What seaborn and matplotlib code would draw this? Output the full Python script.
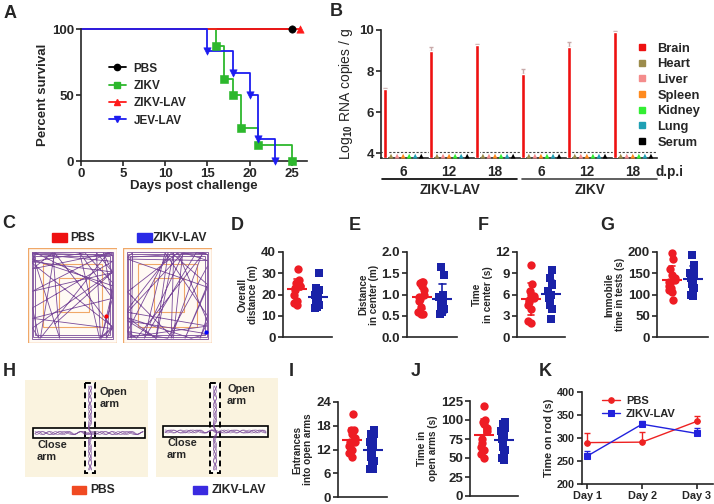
import numpy as np
import pandas as pd
import matplotlib
matplotlib.use('Agg')
import matplotlib.pyplot as plt
import seaborn as sns
from matplotlib.lines import Line2D
from matplotlib.patches import Rectangle

W, H = 714, 504

# ---------------- data ----------------
# A: survival (days post challenge, percent survival)
pbs_days = [0, 25]
pbs_surv = [100, 100]
zikv_days = [0, 16, 17, 18, 19, 21, 25]
zikv_surv = [100, 87.5, 62.5, 50, 25, 12.5, 0]
lav_days = [0, 26]
lav_surv = [100, 100]
jev_days = [0, 15, 18, 20, 21, 23]
jev_surv = [100, 83.3, 66.7, 50, 16.7, 0]

# B: viral load, log10 RNA copies / g
tissues = ['Brain', 'Heart', 'Liver', 'Spleen', 'Kidney', 'Lung', 'Serum']
tissue_colors = ['#ee1111', '#9c8c4c', '#f48c8c', '#ff8a1e', '#33ee33', '#1fa0b4', '#000000']
dpi_labels = ['6', '12', '18', '6', '12', '18']
virus_groups = ['ZIKV-LAV', 'ZIKV']
brain_vals = [7.1, 9.0, 9.25, 7.87, 9.15, 9.9]
brain_err = [0.05, 0.15, 0.06, 0.25, 0.25, 0.03]
heart_vals = [3.85] * 6
liver_vals = [3.85] * 6
spleen_vals = [3.85] * 6
kidney_vals = [3.85] * 6
lung_vals = [3.85] * 6
serum_vals = [3.85] * 6
detect_limit = 4.03

# D-G: open field
dist_pbs = [32, 27, 25.5, 25, 24, 24, 23, 22, 20, 17, 16, 15]
dist_lav = [30, 23, 22, 21, 20, 19, 18, 17, 16, 15, 14, 13.5]
center_pbs = [1.3, 1.3, 1.27, 1.2, 1.1, 1.0, 0.95, 0.9, 0.85, 0.7, 0.6, 0.55, 0.55]
center_lav = [1.65, 1.45, 1.0, 0.95, 0.85, 0.8, 0.75, 0.7, 0.65, 0.6, 0.55]
tcenter_pbs = [10.2, 7.5, 6.5, 6.0, 5.8, 5.5, 5.2, 5.0, 4.5, 4.0, 2.2, 2.0]
tcenter_lav = [9.5, 8.4, 7.5, 7.3, 6.5, 6.0, 5.5, 5.0, 4.5, 4.0, 2.6]
immob_pbs = [198, 183, 160, 145, 140, 135, 130, 128, 120, 115, 110, 105, 88]
immob_lav = [193, 170, 165, 150, 145, 140, 130, 125, 115, 108, 100, 97]

# I-J: elevated plus maze
entr_pbs = [21, 17, 17, 16, 15, 14, 14, 13, 13, 12, 11, 10]
entr_lav = [17, 16, 16, 15, 14, 13, 12, 11, 10, 9, 8, 7, 7]
open_pbs = [119, 100, 98, 95, 90, 85, 75, 70, 65, 60, 55, 50]
open_lav = [98, 95, 92, 90, 85, 80, 75, 72, 65, 60, 55, 50, 48]

# K: rotarod
rod_days = ['Day 1', 'Day 2', 'Day 3']
rod_pbs = [290, 291, 336]
rod_pbs_err = [20, 22, 11]
rod_lav = [261, 330, 310]
rod_lav_err = [10, 8, 12]

RED = '#ee1c24'
BLUE = '#1a22a8'
PURPLE = '#7a4b9a'

# ---------------- style ----------------
sns.set_style('ticks')
plt.rcParams['font.family'] = ['Liberation Sans', 'DejaVu Sans']
plt.rcParams['font.weight'] = 'bold'
plt.rcParams['axes.labelweight'] = 'bold'
plt.rcParams['mathtext.fontset'] = 'custom'
plt.rcParams['mathtext.rm'] = 'Liberation Sans'
plt.rcParams['mathtext.it'] = 'Liberation Sans'

fig = plt.figure(figsize=(W / 100, H / 100), dpi=100)


def add_ax(x0, y0, x1, y1):
    # pixel box, origin top-left
    return fig.add_axes([x0 / W, 1 - y1 / H, (x1 - x0) / W, (y1 - y0) / H])


def ftext(x, y, s, **kw):
    fig.text(x / W, 1 - y / H, s, **kw)


def fline(x0, x1, y, **kw):
    fig.add_artist(Line2D([x0 / W, x1 / W], [1 - y / H, 1 - y / H], transform=fig.transFigure, **kw))


def style(ax, size=8, lw=1.2):
    sns.despine(ax=ax)
    for s in ['left', 'bottom']:
        ax.spines[s].set_linewidth(lw)
    ax.tick_params(width=lw, length=3.5, labelsize=size, pad=1.5)


for lab, x, y in [('A', 10, 13), ('B', 336, 11), ('C', 9, 224), ('D', 237, 225), ('E', 355, 225),
                  ('F', 483, 225), ('G', 607, 225), ('H', 9, 371), ('I', 291, 372), ('J', 416, 372),
                  ('K', 545, 372)]:
    ftext(x, y, lab, fontsize=13, fontweight='bold', ha='center', va='center')

# ---------------- A ----------------
ax = add_ax(81, 29, 307, 161)
curves = [(pbs_days, pbs_surv, 'black', 'o', 'PBS'),
          (zikv_days, zikv_surv, '#2db82d', 's', 'ZIKV'),
          (lav_days, lav_surv, '#ff1a1a', '^', 'ZIKV-LAV'),
          (jev_days, jev_surv, '#1c1cf0', 'v', 'JEV-LAV')]
handles = []
for days, surv, c, m, name in curves:
    ax.step(days, surv, where='post', color=c, lw=1.3, clip_on=False)
    sns.scatterplot(x=days[1:], y=surv[1:], color=c, marker=m, s=28, edgecolor=c, ax=ax,
                    clip_on=False, zorder=5)
    handles.append(Line2D([], [], color=c, marker=m, markersize=4.5, lw=1.3, label=name))
ax.set_xlim(0, 26.8)
ax.set_ylim(0, 100)
ax.set_xticks([0, 5, 10, 15, 20, 25])
ax.set_yticks([0, 50, 100])
ax.set_xlabel('Days post challenge', fontsize=9.5, labelpad=0)
ax.set_ylabel('Percent survival', fontsize=9.5, labelpad=2)
style(ax, 9.5)
ax.legend(handles=handles, loc='upper left', bbox_to_anchor=(98 / W, 1 - 52 / H),
          bbox_transform=fig.transFigure, frameon=False, fontsize=8.5, handlelength=1.5,
          handletextpad=0.6, labelspacing=0.45)

# ---------------- B ----------------
ax = add_ax(381, 30, 657, 158)
gap = 7.6
other = [heart_vals, liver_vals, spleen_vals, kidney_vals, lung_vals, serum_vals]
rows = []
for t, vals in enumerate(other, start=1):
    for g, v in enumerate(vals):
        rows.append({'tissue': tissues[t], 'x': g * gap + t, 'val': v})
df_other = pd.DataFrame(rows)
bx = [g * gap for g in range(6)]
ax.bar(bx, [v - 3.76 for v in brain_vals], bottom=3.76, width=0.7, color=tissue_colors[0], zorder=3)
ax.errorbar(bx, brain_vals, yerr=[[0] * 6, brain_err], fmt='none', ecolor='#c9aaaa', elinewidth=1,
            capsize=1.5, zorder=2)
sns.scatterplot(data=df_other, x='x', y='val', hue='tissue', palette=tissue_colors[1:], marker='^',
                s=12, edgecolor='none', legend=False, ax=ax, clip_on=False, zorder=4)
ax.axhline(detect_limit, color='#444444', lw=0.8, ls=(0, (2, 1.5)), zorder=1)
ax.set_xlim(-0.66, 45)
ax.set_ylim(3.76, 10)
ax.set_yticks([4, 6, 8, 10])
ax.set_xticks([g * gap + 3 for g in range(6)])
ax.set_xticklabels(dpi_labels)
ax.set_xlabel('')
ax.set_ylabel('Log$_{10}$ RNA copies / g', fontsize=10, fontweight='normal', labelpad=3)
style(ax, 9.5)
ax.tick_params(axis='x', length=0, pad=5, labelsize=9.8)
ftext(670, 172, 'd.p.i', fontsize=9.8, fontweight='bold', ha='center', va='center')
fline(382, 517, 179, color='black', lw=1.2)
fline(522, 657, 179, color='#444444', lw=1.2)
ftext(450, 190, virus_groups[0], fontsize=9.8, ha='center', va='center')
ftext(590, 190, virus_groups[1], fontsize=9.8, ha='center', va='center')
leg_h = [Line2D([], [], marker='s', color=c, ls='none', markersize=4) for c in tissue_colors]
ax.legend(leg_h, tissues, loc='upper left', bbox_to_anchor=(624 / W, 1 - 31 / H),
          bbox_transform=fig.transFigure, frameon=False, fontsize=9.3, handlelength=1,
          handletextpad=0.7, labelspacing=0.28)


# ---------------- C: open field tracks ----------------
def billiard(x0, y0, ang, n, lo=0.05, hi=0.95):
    pts = [(x0, y0)]
    x, y = x0, y0
    dx, dy = np.cos(ang), np.sin(ang)
    for i in range(n):
        tx = (hi - x) / dx if dx > 0 else (lo - x) / dx
        ty = (hi - y) / dy if dy > 0 else (lo - y) / dy
        t = min(tx, ty)
        x, y = x + dx * t, y + dy * t
        if tx < ty:
            dx = -dx
        else:
            dy = -dy
        a = np.arctan2(dy, dx) + 0.9 * np.sin(i * 2.4 + ang)
        dx, dy = np.cos(a), np.sin(a)
        # keep pointing inward
        if (x >= hi - 1e-9 and dx > 0) or (x <= lo + 1e-9 and dx < 0):
            dx = -dx
        if (y >= hi - 1e-9 and dy > 0) or (y <= lo + 1e-9 and dy < 0):
            dy = -dy
        pts.append((x, y))
    return np.array(pts)


for (x0, x1), seed_ang, dot_c, dot_xy in [((28, 117), 0.7, 'red', (0.88, 0.28)),
                                          ((123, 212), 1.1, 'blue', (0.93, 0.12))]:
    ax = add_ax(x0, 248, x1, 343)
    ax.set_xlim(0, 1)
    ax.set_ylim(0, 1)
    ax.axis('off')
    ax.add_patch(Rectangle((0, 0), 1, 1, fc='#fffaf4', ec='#f0a868', lw=1))
    ax.add_patch(Rectangle((0.17, 0.17), 0.66, 0.66, fc='none', ec='#f0a868', lw=0.8))
    ax.add_patch(Rectangle((0.35, 0.33), 0.33, 0.35, fc='none', ec='#f0a868', lw=0.8))
    for off in [0.04, 0.06, 0.08]:
        ax.add_patch(Rectangle((off, off), 1 - 2 * off, 1 - 2 * off, fc='none', ec=PURPLE, lw=0.6))
    p = billiard(0.3, 0.2, seed_ang, 44)
    ax.plot(p[:, 0], p[:, 1], color=PURPLE, lw=0.6)
    ax.plot(*dot_xy, 'o', color=dot_c, ms=2)

fig.add_artist(Rectangle((52 / W, 1 - 242 / H), 15 / W, 9 / H, color='#ee1111', transform=fig.transFigure))
ftext(70, 238, 'PBS', fontsize=8.7, va='center')
fig.add_artist(Rectangle((137 / W, 1 - 242 / H), 15 / W, 9 / H, color='#2a2ae6', transform=fig.transFigure))
ftext(153, 238, 'ZIKV-LAV', fontsize=8.7, va='center')


# ---------------- dot plots ----------------
def dot_panel(box, red, blue, yticks, ylabel, ticklabels=None):
    ax = add_ax(*box)
    order = ['PBS', 'ZIKV-LAV']
    df = pd.DataFrame({'grp': ['PBS'] * len(red) + ['ZIKV-LAV'] * len(blue),
                       'val': list(red) + list(blue)})
    np.random.seed(3)
    sns.stripplot(data=df[df.grp == 'PBS'], x='grp', y='val', order=order, color=RED, marker='o',
                  size=6, jitter=0.16, ax=ax, clip_on=False, zorder=3)
    sns.stripplot(data=df[df.grp == 'ZIKV-LAV'], x='grp', y='val', order=order, color=BLUE,
                  marker='s', size=5.4, jitter=0.16, ax=ax, clip_on=False, zorder=3)
    sns.pointplot(data=df, x='grp', y='val', order=order, hue='grp', palette=[RED, BLUE],
                  errorbar='sd', markers='_', markersize=15, markeredgewidth=1.5, linestyle='none',
                  capsize=0.3, err_kws={'linewidth': 1.2}, legend=False, ax=ax)
    ax.set_xlim(-0.7, 1.7)
    ax.set_ylim(yticks[0], yticks[-1])
    ax.set_yticks(yticks)
    if ticklabels:
        ax.set_yticklabels(ticklabels)
    ax.set_xticks([])
    ax.set_xlabel('')
    ax.set_ylabel(ylabel, fontsize=7.2, labelpad=2, linespacing=1.1)
    style(ax, 9.5)
    return ax


dot_panel((283, 252, 332, 337), dist_pbs, dist_lav, [0, 10, 20, 30, 40], 'Overall\ndistance (m)')
dot_panel((407, 252, 457, 337), center_pbs, center_lav, [0, 0.5, 1.0, 1.5, 2.0],
          'Distance\nin center (m)', ['0.0', '0.5', '1.0', '1.5', '2.0'])
dot_panel((517, 252, 565, 337), tcenter_pbs, tcenter_lav, [0, 3, 6, 9, 12], 'Time\nin center (s)')
dot_panel((657, 252, 708, 337), immob_pbs, immob_lav, [0, 50, 100, 150, 200], 'Immobile\ntime in tests (s)')
dot_panel((338, 402, 387, 497), entr_pbs, entr_lav, [0, 6, 12, 18, 24], 'Entrances\ninto open arms')
dot_panel((470, 401, 518, 496), open_pbs, open_lav, [0, 25, 50, 75, 100, 125], 'Time in\nopen arms (s)')

# ---------------- H: plus maze ----------------
for (x0, y0, x1, y1), ca, oa, ot, ct in [
        ((25, 380, 148, 477), (8, 48, 112, 10), (60, 3, 10, 90), (75, 18), (12, 71)),
        ((156, 378, 278, 477), (7, 48, 105, 11), (54, 5, 10, 90), (71, 17), (11, 71))]:
    ax = add_ax(x0, y0, x1, y1)
    ax.set_xlim(0, x1 - x0)
    ax.set_ylim(y1 - y0, 0)
    ax.axis('off')
    ax.add_patch(Rectangle((0, 0), x1 - x0, y1 - y0, fc='#faf3df', ec='none'))
    ax.add_patch(Rectangle((ca[0], ca[1]), ca[2], ca[3], fc='#fdfcf6', ec='none'))
    ax.add_patch(Rectangle((oa[0], oa[1]), oa[2], oa[3], fc='#fdfcf6', ec='none'))
    xs = np.linspace(ca[0] + 2, ca[0] + ca[2] - 2, 60)
    for k in range(4):
        ax.plot(xs, ca[1] + ca[3] / 2 + 1.5 * np.sin(xs * (0.3 + 0.1 * k) + k), color=PURPLE, lw=0.5,
                alpha=0.8)
    ys = np.linspace(oa[1] + 3, oa[1] + oa[3] - 3, 60)
    for k in range(4):
        ax.plot(oa[0] + oa[2] / 2 + 1.5 * np.sin(ys * (0.25 + 0.1 * k) + k), ys, color=PURPLE, lw=0.5,
                alpha=0.8)
    ax.add_patch(Rectangle((ca[0], ca[1]), ca[2], ca[3], fc='none', ec='black', lw=1.2))
    ax.add_patch(Rectangle((oa[0], oa[1]), oa[2], oa[3], fc='none', ec='black', lw=1.4, ls=(0, (3, 2))))
    ax.text(ot[0], ot[1], 'Open\narm', fontsize=7.8, va='center', linespacing=1.3)
    ax.text(ct[0], ct[1], 'Close\narm', fontsize=7.8, va='center', linespacing=1.3)

fig.add_artist(Rectangle((72 / W, 1 - 494 / H), 14 / W, 8 / H, color='#f04a22', transform=fig.transFigure))
ftext(90, 490, 'PBS', fontsize=8.7, va='center')
fig.add_artist(Rectangle((193 / W, 1 - 494 / H), 14 / W, 8 / H, color='#3a2ae0', transform=fig.transFigure))
ftext(212, 490, 'ZIKV-LAV', fontsize=8.7, va='center')

# ---------------- K: rotarod ----------------
ax = add_ax(582, 392, 713, 484)
xk = list(range(len(rod_days)))
sns.lineplot(x=xk, y=rod_pbs, color='#ee2222', marker='o', markersize=4, markeredgecolor='#ee2222',
             lw=1, ax=ax, label='PBS')
sns.lineplot(x=xk, y=rod_lav, color='#2222dd', marker='s', markersize=4, markeredgecolor='#2222dd',
             lw=1, ax=ax, label='ZIKV-LAV')
ax.errorbar(xk, rod_pbs, yerr=[[0] * 3, rod_pbs_err], fmt='none', ecolor='#ee2222', elinewidth=1,
            capsize=2.5)
ax.errorbar(xk, rod_lav, yerr=[[0] * 3, rod_lav_err], fmt='none', ecolor='#2222dd', elinewidth=1,
            capsize=2.5)
ax.set_xlim(-0.1, 2.3)
ax.set_ylim(200, 400)
ax.set_yticks([200, 250, 300, 350, 400])
ax.set_xticks(xk)
ax.set_xticklabels(rod_days)
ax.set_ylabel('Time on rod (s)', fontsize=7.8, labelpad=2)
style(ax, 7.8)
ax.legend(loc='upper left', bbox_to_anchor=(0.08, 1.07), frameon=False, fontsize=8,
          handlelength=1.6, handletextpad=0.5, labelspacing=0.3)

fig.savefig('out.png', dpi=100)
